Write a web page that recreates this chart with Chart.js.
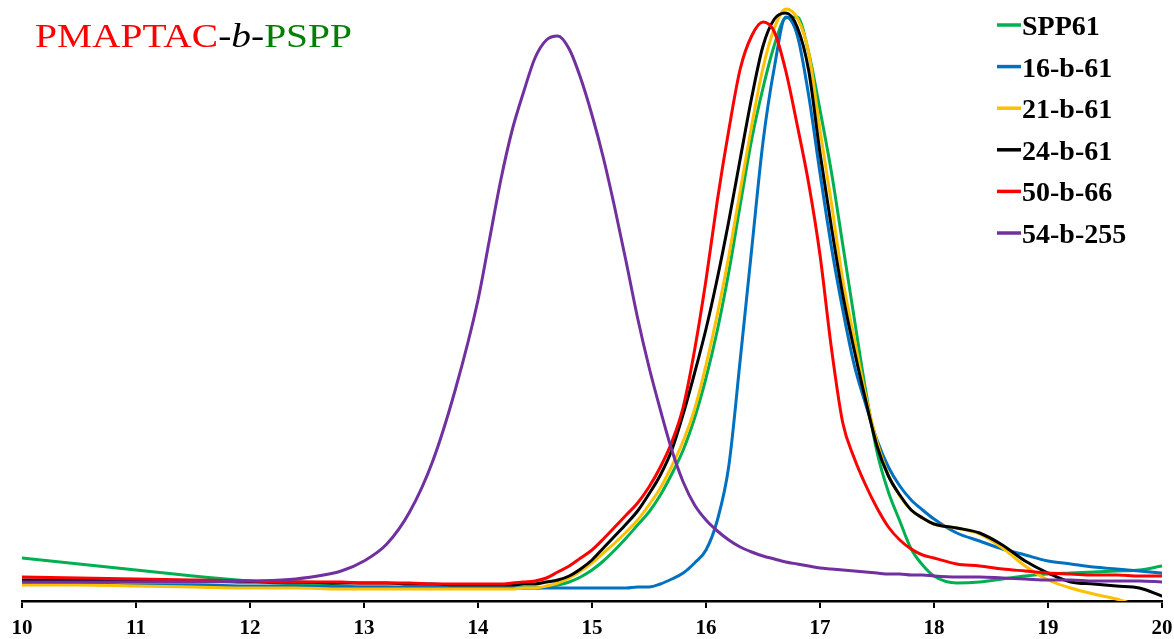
<!DOCTYPE html>
<html>
<head>
<meta charset="utf-8">
<title>GPC traces</title>
<script src="https://cdn.jsdelivr.net/npm/chart.js@4.4.1/dist/chart.umd.min.js"></script>
<style>
  html, body { margin: 0; padding: 0; background: #fff; }
  #wrap { width: 1174px; height: 639px; }
</style>
</head>
<body>
<div id="wrap"><canvas id="gpc" width="1174" height="639"></canvas></div>
<script>
// elution time (min), shared by every trace
const elutionTime = [
  10, 10.5, 11, 11.5, 12, 12.4, 12.8, 13, 13.2, 13.4, 13.6, 13.8, 14,
  14.1, 14.2, 14.3, 14.4, 14.5, 14.6, 14.7, 14.8, 14.9, 15,
  15.1, 15.2, 15.3, 15.4, 15.5, 15.6, 15.7, 15.8, 15.9, 16,
  16.1, 16.2, 16.3, 16.4, 16.5, 16.6, 16.7, 16.8, 16.9, 17,
  17.1, 17.2, 17.3, 17.4, 17.5, 17.6, 17.7, 17.8, 17.9, 18,
  18.2, 18.4, 18.6, 18.8, 19, 19.2, 19.4, 19.6, 19.8, 20
];

// detector response (a.u.)
const spp61 = [
  43, 37, 31, 25, 20, 17, 15, 14, 14, 13, 13, 13, 13,
  13, 13, 13, 13, 13, 14, 16, 19, 24, 31,
  40, 51, 63, 76, 89, 106, 127, 151, 183, 223,
  271, 329, 396, 461, 513, 556, 583, 584, 549, 491,
  429, 356, 283, 211, 149, 109, 80, 52, 36, 25,
  18, 19, 22, 25, 27, 28, 29, 30, 31, 35
];
const p16b61 = [
  17, 17, 16, 16, 15, 15, 14, 14, 14, 14, 14, 13, 13,
  13, 13, 13, 13, 13, 13, 13, 13, 13, 13,
  13, 13, 13, 14, 14, 17, 22, 28, 38, 51,
  81, 135, 241, 351, 459, 534, 584, 566, 506, 428,
  354, 291, 236, 197, 161, 134, 115, 101, 91, 82,
  68, 60, 52, 46, 40, 37, 34, 32, 30, 28
];
const p21b61 = [
  16, 16, 15, 14, 13, 13, 12, 12, 12, 12, 12, 12, 12,
  12, 12, 12, 13, 13, 15, 18, 23, 30, 38,
  48, 58, 69, 81, 96, 113, 135, 160, 192, 236,
  287, 345, 410, 475, 533, 573, 592, 583, 549, 471,
  398, 321, 263, 206, 159, 126, 105, 91, 83, 77,
  73, 67, 53, 35, 21, 13, 7, 2, -5, -11
];
const p24b61 = [
  21, 21, 20, 20, 19, 19, 18, 18, 18, 17, 17, 16, 16,
  16, 16, 16, 17, 17, 19, 21, 25, 32, 41,
  53, 65, 77, 90, 107, 126, 151, 187, 228, 272,
  323, 380, 442, 503, 555, 582, 588, 574, 531, 448,
  374, 306, 251, 201, 155, 125, 106, 91, 83, 77,
  73, 68, 56, 40, 28, 19, 17, 15, 13, 5
];
const p50b66 = [
  24, 23, 22, 21, 20, 19, 19, 18, 18, 18, 17, 17, 17,
  17, 17, 18, 19, 20, 23, 29, 35, 43, 51,
  62, 74, 86, 98, 114, 134, 159, 194, 251, 321,
  401, 471, 532, 565, 579, 569, 530, 476, 418, 346,
  253, 178, 143, 116, 93, 74, 61, 52, 46, 43,
  37, 35, 32, 30, 28, 27, 26, 26, 25, 25
];
const p54b255 = [
  19, 19, 19, 19, 20, 22, 30, 40, 57, 89, 139, 211, 301,
  361, 421, 471, 509, 543, 561, 565, 552, 523, 486,
  443, 393, 339, 283, 234, 191, 151, 119, 96, 81,
  70, 61, 54, 49, 45, 42, 39, 37, 35, 33,
  32, 31, 30, 29, 28, 27, 27, 26, 26, 25,
  24, 24, 23, 22, 21, 21, 20, 20, 20, 19
];

const seriesNames = ["SPP61", "16-b-61", "21-b-61", "24-b-61", "50-b-66", "54-b-255"];
const seriesValues = [spp61, p16b61, p21b61, p24b61, p50b66, p54b255];
const seriesColors = ["#00B050", "#0070C0", "#FFC000", "#000000", "#FF0000", "#7030A0"];

// title pieces: text, colour, italic
const titleParts = [
  ["PMAPTAC", "#FF0000", false],
  ["-", "#000000", false],
  ["b", "#000000", true],
  ["-", "#000000", false],
  ["PSPP", "#008000", false]
];

const SERIF = "'Liberation Serif', 'Times New Roman', serif";

const datasets = seriesNames.map((name, i) => ({
  label: name,
  data: elutionTime.map((t, k) => ({ x: t, y: seriesValues[i][k] })),
  borderColor: seriesColors[i],
  borderWidth: 3,
  pointRadius: 0,
  fill: false,
  cubicInterpolationMode: "monotone",
  borderJoinStyle: "round",
  borderCapStyle: "round",
  // later series sit on top
  order: seriesNames.length - 1 - i
}));

// title in the top-left and the legend in the top-right
const overlayText = {
  id: "overlayText",
  afterDraw(chart) {
    const ctx = chart.ctx;
    ctx.save();
    ctx.textBaseline = "alphabetic";
    ctx.textAlign = "left";

    // the title is set a little wide
    ctx.save();
    ctx.translate(35, 47);
    ctx.scale(1.16, 1);
    let x = 0;
    titleParts.forEach(([txt, color, italic]) => {
      ctx.font = (italic ? "italic " : "") + "34px " + SERIF;
      ctx.fillStyle = color;
      ctx.fillText(txt, x, 0);
      x += ctx.measureText(txt).width;
    });
    ctx.restore();

    ctx.font = "bold 28px " + SERIF;
    chart.data.datasets.forEach((ds, i) => {
      const base = 35 + i * 41.6;
      ctx.strokeStyle = ds.borderColor;
      ctx.lineWidth = 3.5;
      ctx.beginPath();
      ctx.moveTo(997, base - 10);
      ctx.lineTo(1021, base - 10);
      ctx.stroke();
      ctx.fillStyle = "#000";
      ctx.fillText(ds.label, 1022, base);
    });
    ctx.restore();
  }
};

new Chart(document.getElementById("gpc"), {
  type: "line",
  data: { datasets },
  options: {
    responsive: false,
    animation: false,
    layout: { padding: { left: 22, right: 0, top: 1, bottom: 0 } },
    plugins: {
      legend: { display: false },
      tooltip: { enabled: false }
    },
    scales: {
      x: {
        type: "linear",
        min: 10,
        max: 20,
        afterFit(scale) {
          scale.height = 38;
          scale.paddingLeft = 11;
          scale.paddingRight = 12;
        },
        ticks: {
          stepSize: 1,
          maxRotation: 0,
          padding: 8,
          color: "#000",
          font: { family: SERIF, size: 21, weight: "bold" }
        },
        grid: {
          drawOnChartArea: false,
          drawTicks: true,
          tickLength: 7,
          color: "#000",
          lineWidth: 2
        },
        border: { display: true, color: "#000", width: 2.5 }
      },
      y: {
        display: false,
        min: 0,
        max: 600
      }
    }
  },
  plugins: [overlayText]
});
</script>
</body>
</html>
